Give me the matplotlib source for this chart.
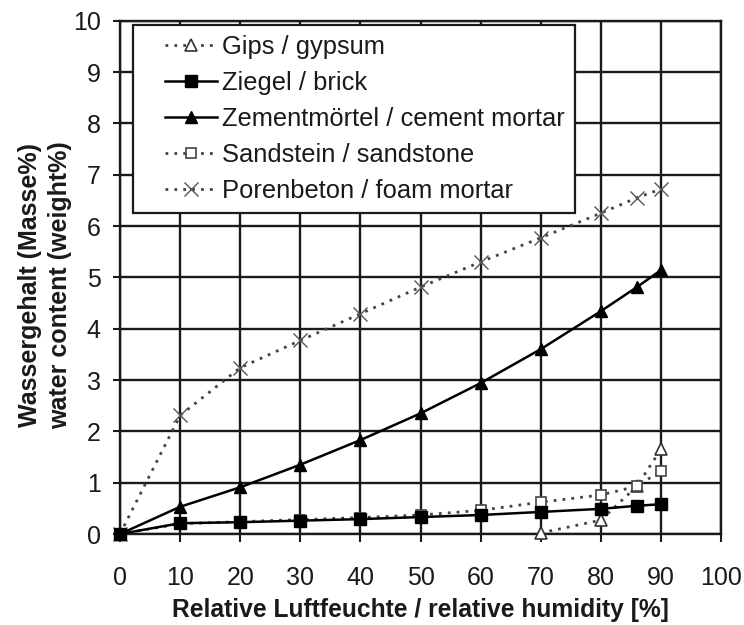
import numpy as np
from matplotlib import pyplot as plt
from matplotlib.lines import Line2D
from matplotlib.legend_handler import HandlerLine2D

plt.rcParams['font.family'] = ['Liberation Sans', 'DejaVu Sans']

# relative humidity [%]
rh = [0, 10, 20, 30, 40, 50, 60, 70, 80, 86, 90]
rh_gips = [70, 80, 86, 90]

gips = [0.02, 0.27, 0.93, 1.65]
ziegel = [0.0, 0.21, 0.23, 0.26, 0.29, 0.33, 0.37, 0.43, 0.49, 0.55, 0.58]
zement = [0.0, 0.53, 0.91, 1.35, 1.83, 2.35, 2.94, 3.6, 4.34, 4.81, 5.14]
sandstein = [0.0, 0.2, 0.24, 0.28, 0.32, 0.37, 0.46, 0.62, 0.76, 0.93, 1.23]
porenbeton = [0.0, 2.31, 3.24, 3.77, 4.29, 4.81, 5.3, 5.77, 6.25, 6.55, 6.72]

fs = 18
dots = (0, (1, 2.2))

fig = plt.figure(figsize=(7.44, 6.25), dpi=100)
ax = fig.add_axes([0.1613, 0.1456, 0.8078, 0.8213])

ax.plot(rh_gips, gips, ls=dots, color='#444444', lw=2, marker='^', ms=8.5,
        mfc='white', mec='#333333', mew=1.2, label='Gips / gypsum', zorder=3,
        clip_on=False)
ax.plot(rh, ziegel, '-', color='black', lw=1.8, marker='s', ms=9,
        mfc='black', mec='black', label='Ziegel / brick', zorder=5,
        clip_on=False)
ax.plot(rh, zement, '-', color='black', lw=1.8, marker='^', ms=8,
        mfc='black', mec='black', label='Zementmörtel / cement mortar', zorder=4,
        clip_on=False)
ax.plot(rh, sandstein, ls=dots, color='#444444', lw=2, marker='s', ms=7.5,
        mfc='white', mec='#444444', mew=1.2, label='Sandstein / sandstone', zorder=3,
        clip_on=False)
ax.plot(rh, porenbeton, ls=dots, color='#444444', lw=2, marker='x', ms=10,
        mec='#555555', mew=1.0, label='Porenbeton / foam mortar', zorder=3,
        clip_on=False)

ax.set_xlim(0, 100)
ax.set_ylim(0, 10)
ax.set_xticks(np.arange(0, 101, 10))
ax.set_yticks(np.arange(0, 11, 1))
ax.grid(True, color='#1a1a1a', lw=1.7)
ax.set_axisbelow(True)
for s in ax.spines.values():
    s.set_linewidth(1.7)
    s.set_color('#1a1a1a')
ax.tick_params(direction='out', width=1.5, labelsize=fs, colors='#1a1a1a')
ax.tick_params(axis='x', length=6, pad=17)
ax.tick_params(axis='y', length=5, pad=9)

ax.set_xlabel('Relative Luftfeuchte / relative humidity [%]', fontsize=17.7,
              fontweight='bold', va='top', color='#1a1a1a')
ax.xaxis.set_label_coords(0.5, -0.125)
ax.set_ylabel('Wassergehalt (Masse%)\nwater content (weight%)', fontsize=18,
              fontweight='bold', linespacing=1.3, color='#1a1a1a')
ax.yaxis.set_label_coords(-0.08, 0.485)

leg = ax.legend(loc='upper left', bbox_to_anchor=(0.0216, 0.9916), fontsize=18.4,
                frameon=True, fancybox=False, framealpha=1, edgecolor='#1a1a1a',
                handlelength=2.9, handletextpad=0.2, labelspacing=0.47,
                borderpad=0.4, borderaxespad=0,
                handler_map={Line2D: HandlerLine2D(xpad=0.86)})
leg.get_frame().set_linewidth(1.6)
leg.set_zorder(10)
for t in leg.get_texts():
    t.set_color('#1a1a1a')

plt.savefig('out.png', dpi=100)
